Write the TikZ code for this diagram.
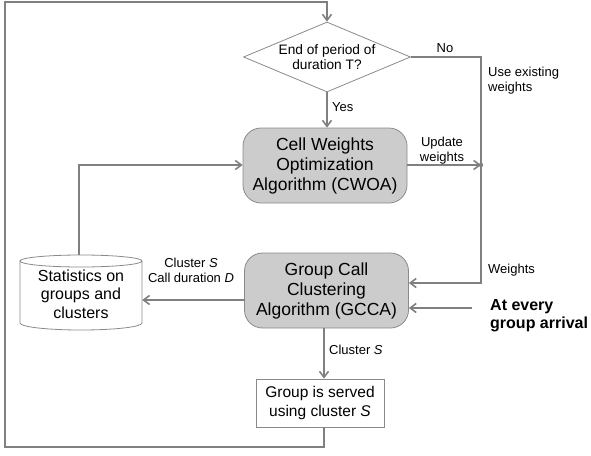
\documentclass[tikz,border=0pt]{standalone}
\usepackage{fontspec}
\setmainfont{Liberation Sans}
\usetikzlibrary{arrows.meta,shapes.geometric}
\definecolor{linegray}{HTML}{808080}
\definecolor{boxfill}{HTML}{CCCCCC}
\definecolor{bordergray}{HTML}{8A8A8A}
\begin{document}
\begin{tikzpicture}[x=1pt,y=-1pt,
  conn/.style={draw=linegray, line width=1.6pt},
  arr/.style={conn, -{Straight Barb[length=6pt,width=9pt]}},
  algbox/.style={draw=bordergray, line width=0.8pt, fill=boxfill, rounded corners=18pt,
    minimum width=164pt, minimum height=75pt, align=center, inner sep=0pt,
    font=\fontsize{17.5}{20}\selectfont},
  decbox/.style={diamond, draw=bordergray, line width=0.8pt, minimum width=167pt, minimum height=70pt,
    aspect=2.39, inner sep=0pt, align=center, font=\fontsize{13.7}{15}\selectfont},
  plainbox/.style={draw=bordergray, line width=0.8pt, fill=white, minimum width=128pt, minimum height=48pt,
    align=center, inner sep=0pt, font=\fontsize{15.5}{19}\selectfont},
  lbl/.style={inner sep=0pt, align=center, font=\fontsize{13}{15}\selectfont},
  lbll/.style={inner sep=0pt, align=left, font=\fontsize{13}{15}\selectfont, anchor=west},
  boldlbl/.style={inner sep=0pt, align=left, anchor=west, font=\fontsize{16}{18}\selectfont\bfseries}
]
\useasboundingbox (0,0) rectangle (591,455);

% nodes
\node[decbox] (dec) at (327,57) {End of period of\\duration T?};
\node[algbox] (cwoa) at (325,165.5) {Cell Weights\\Optimization\\Algorithm (CWOA)};
\node[algbox] (gcca) at (326.5,290.5) {Group Call\\Clustering\\Algorithm (GCCA)};
\node[plainbox] (served) at (320,403) {Group is served\\using cluster \textit{S}};

% statistics cylinder
\node[inner sep=0pt, minimum width=122pt, minimum height=75pt, align=center,
  font=\fontsize{16}{18.5}\selectfont] (stats) at (81,294) {Statistics on\\groups and\\clusters};
\draw[bordergray, line width=0.8pt] (81,261) ellipse[x radius=61pt, y radius=6pt];
\draw[bordergray, line width=0.8pt] (20,261) -- (20,323) arc[start angle=180, end angle=360, x radius=61pt, y radius=7pt] -- (142,261);

% coordinates
\coordinate (tl) at (5,2);
\coordinate (bl) at (5,447);
\coordinate (br) at (324,447);
\coordinate (nr) at (481,57);
\coordinate (jn) at (481,165);
\coordinate (wj) at (481,283);
\coordinate (sc) at (79,165);
\coordinate (stop) at (79,255);
\coordinate (ga) at (245,300);
\coordinate (ae) at (472,308);

% connectors
\draw[arr] (served.south -| br) -- (br) -- (bl) -- (tl) -- (tl -| dec.north) -- (dec.north);
\draw[arr] (dec.south) -- (dec.south |- cwoa.north);
\draw[arr] (dec.east) -- (nr) -- (wj) -- (wj -| gcca.east);
\draw[arr] (cwoa.east |- jn) -- (jn);
\fill[linegray] (jn) circle[radius=2.2pt];
\draw[arr] (stop) -- (sc) -- (sc -| cwoa.west);
\draw[arr] (ga) -- (ga -| stats.east);
\draw[arr] (ae) -- (ae -| gcca.east);
\draw[arr] (gcca.south -| br) -- (served.north -| br);

% labels
\node[lbl] (lno) at (445,48) {No};
\node[lbll] (luse) at (488,80.5) {Use existing\\weights};
\node[lbll] (lyes) at (332,107) {Yes};
\node[lbl] (lupd) at (442,150.5) {Update\\weights};
\node[lbl] (lcl) at (191,270.5) {Cluster \textit{S}\\Call duration \textit{D}};
\node[lbll] (lw) at (488,270) {Weights};
\node[boldlbl] (lat) at (490,316) {At every\\group arrival};
\node[lbll] (lcs) at (329,350) {Cluster \textit{S}};
\end{tikzpicture}
\end{document}
